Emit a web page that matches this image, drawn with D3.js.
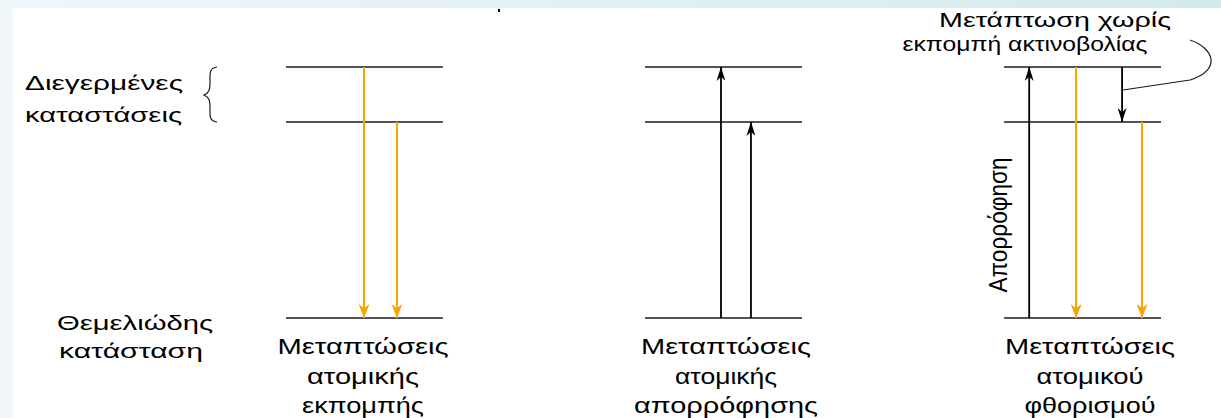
<!DOCTYPE html>
<html><head><meta charset="utf-8">
<script src="https://cdn.jsdelivr.net/npm/d3@7"></script>
<style>html,body{margin:0;padding:0;background:#fff;}svg{display:block;}</style>
</head><body>
<script>
// ---- data ----
const panels = ["emission", "absorption", "fluorescence"];
const panelLabels = [
  ["Μεταπτώσεις", "ατομικής", "εκπομπής"],
  ["Μεταπτώσεις", "ατομικής", "απορρόφησης"],
  ["Μεταπτώσεις", "ατομικού", "φθορισμού"]
];
// energy levels (relative energy, ground = 0, highest excited = 1)
const levelNames = ["ground", "excited1", "excited2"];
const levelEnergy = [0, 0.781, 1.0];
// transitions: panel, relative position in the panel, from level, to level, type
const transPanel = [0, 0, 1, 1, 2, 2, 2, 2];
const transPos   = [0.497, 0.707, 0.484, 0.675, 0.16, 0.459, 0.752, 0.879];
const transFrom  = [2, 1, 0, 0, 0, 2, 2, 1];
const transTo    = [0, 0, 2, 1, 2, 0, 1, 0];
const transType  = ["emit", "emit", "abs", "abs", "abs", "emit", "nonrad", "emit"];
const leftLabelsExcited = ["Διεγερμένες", "καταστάσεις"];
const leftLabelsGround = ["Θεμελιώδης", "κατάσταση"];
const noteLabel = ["Μετάπτωση χωρίς", "εκπομπή ακτινοβολίας"];
const absLabel = "Απορρόφηση";

const W = 1221, H = 418;
const ORANGE = "#f7a300", DARK = "#1a1a1a";
const svg = d3.select("body").append("svg").attr("width", W).attr("height", H);

// background bands
const defs = svg.append("defs");
const g1 = defs.append("linearGradient").attr("id", "topg").attr("x1", 0).attr("x2", 1).attr("y1", 0).attr("y2", 0);
g1.append("stop").attr("offset", 0).attr("stop-color", "#eef7f9");
g1.append("stop").attr("offset", 1).attr("stop-color", "#d3eaed");
svg.append("rect").attr("x", 0).attr("y", 0).attr("width", 13).attr("height", H).attr("fill", "#eff7fa");
svg.append("rect").attr("x", 0).attr("y", 0).attr("width", W).attr("height", 8).attr("fill", "url(#topg)");
svg.append("rect").attr("x", 498).attr("y", 9).attr("width", 2).attr("height", 3).attr("fill", "#000");

// arrow markers
function marker(id, color, w, l) {
  defs.append("marker").attr("id", id).attr("viewBox", `0 0 ${l} ${w}`)
    .attr("refX", l).attr("refY", w / 2).attr("markerWidth", l).attr("markerHeight", w)
    .attr("markerUnits", "userSpaceOnUse").attr("orient", "auto")
    .append("path").attr("d", `M0,0 L${l},${w / 2} L0,${w} L${l * 0.3},${w / 2} Z`).attr("fill", color);
}
marker("ah-o", ORANGE, 11, 14);
marker("ah-k", "#000", 9, 14);

// scales
const x = d3.scaleBand().domain(panels).range([286, 1161]).paddingInner(0.563).paddingOuter(0);
const y = d3.scaleLinear().domain([0, 1]).range([318, 67]);
const inner = i => d3.scaleLinear().domain([0, 1]).range([x(panels[i]), x(panels[i]) + x.bandwidth()]);

// level lines
panels.forEach((p, i) => {
  svg.append("g").selectAll("line").data(levelEnergy).join("line")
    .attr("x1", x(p)).attr("x2", x(p) + x.bandwidth())
    .attr("y1", d => y(d)).attr("y2", d => y(d))
    .attr("stroke", DARK).attr("stroke-width", 1.6);
});

// transitions
transPanel.forEach((pi, k) => {
  const xs = inner(pi)(transPos[k]);
  const col = transType[k] === "emit" ? ORANGE : "#000";
  svg.append("line")
    .attr("x1", xs).attr("x2", xs)
    .attr("y1", y(levelEnergy[transFrom[k]])).attr("y2", y(levelEnergy[transTo[k]]))
    .attr("stroke", col).attr("stroke-width", transType[k] === "emit" ? 2 : 1.8)
    .attr("marker-end", `url(#${transType[k] === "emit" ? "ah-o" : "ah-k"})`);
});

const FONT = "'Liberation Sans', Arial, sans-serif";
function txt(s, xx, yy, size, len, anchor) {
  return svg.append("text").attr("x", xx).attr("y", yy).attr("font-family", FONT)
    .attr("font-size", size).attr("fill", "#000").attr("text-anchor", anchor || "middle")
    .attr("textLength", len).attr("lengthAdjust", "spacingAndGlyphs").text(s);
}

// panel labels
const labelCenters = [363, 726, 1090];
const labelLens = [[171, 112, 122], [170, 102, 184], [170, 107, 131]];
const rowY = [354, 384, 413];
panelLabels.forEach((rows, i) => rows.forEach((s, r) => txt(s, labelCenters[i], rowY[r], 22, labelLens[i][r])));

// left labels
txt(leftLabelsExcited[0], 25, 90, 19.5, 158, "start");
txt(leftLabelsExcited[1], 25, 122, 19.5, 157, "start");
txt(leftLabelsGround[0], 135, 330, 19.5, 156);
txt(leftLabelsGround[1], 131, 358, 19.5, 144);

// brace
svg.append("path")
  .attr("d", "M217,67 C209,68 210,74 210,82 C210,90 209,93 204,95 C209,97 210,100 210,108 C210,116 209,121 217,122")
  .attr("fill", "none").attr("stroke", DARK).attr("stroke-width", 1.2);

// note at top right
txt(noteLabel[0], 1055, 27, 21, 232);
txt(noteLabel[1], 1025, 51, 21, 245);
svg.append("path")
  .attr("d", "M1190,40 C1214,48 1222,70 1190,80 L1123,90")
  .attr("fill", "none").attr("stroke", DARK).attr("stroke-width", 1.2);

// vertical label
svg.append("text").attr("transform", "translate(1007,225) rotate(-90)")
  .attr("font-family", FONT).attr("font-size", 25).attr("text-anchor", "middle")
  .attr("textLength", 135).attr("lengthAdjust", "spacingAndGlyphs").text(absLabel);
</script>
</body></html>
